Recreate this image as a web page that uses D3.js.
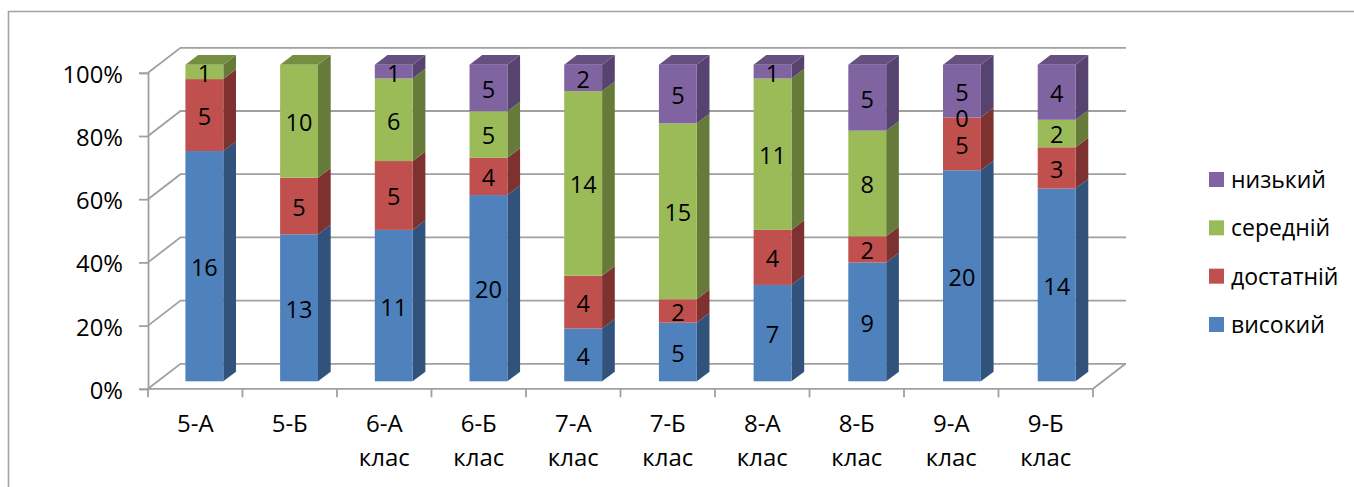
<!DOCTYPE html>
<html><head><meta charset="utf-8">
<script src="https://cdn.jsdelivr.net/npm/d3@7/dist/d3.min.js"></script>
<style>html,body{margin:0;padding:0;background:#fff}svg{display:block}text{font-family:"Open Sans",sans-serif;fill:#000}</style>
</head><body><svg id="c" width="1354" height="487"></svg>
<script>
const categories = ["5-А","5-Б","6-А клас","6-Б клас","7-А клас","7-Б клас","8-А клас","8-Б клас","9-А клас","9-Б клас"];
const seriesNames = ["високий","достатній","середній","низький"];
const vysokyi   = [16,13,11,20,4,5,7,9,20,14];
const dostatnii = [5,5,5,4,4,2,4,2,5,3];
const serednii  = [1,10,6,5,14,15,11,8,0,2];
const nyzkyi    = [0,0,1,5,2,5,1,5,5,4];
const yTicks = [0,0.2,0.4,0.6,0.8,1];
const frontColors = ["#4F81BD","#C0504D","#9BBB59","#8064A2"];
const sideColors  = ["#31527B","#7D3230","#667B3A","#564370"];
const topColors   = ["#3D6596","#964040","#748E42","#65507F"];

const svg = d3.select("#c");
const grid = "#a0a0a0";
const dx = 32.5, dy = 25;        // wall depth
const bdx = 12.7, bdy = 9.6;     // bar depth

const rows = categories.map((c,i)=>({cat:c,[seriesNames[0]]:vysokyi[i],[seriesNames[1]]:dostatnii[i],[seriesNames[2]]:serednii[i],[seriesNames[3]]:nyzkyi[i]}));
const stacked = d3.stack().keys(seriesNames).offset(d3.stackOffsetExpand)(rows);

const xAxisScale = d3.scaleBand().domain(categories).range([148,1093]);
const y = d3.scaleLinear().domain([0,1]).range([388.8,72.8]);
const barX = d3.scaleBand().domain(categories).range([157,1104]).paddingInner(0.6).paddingOuter(0.3);
const barY = d3.scaleLinear().domain([0,1]).range([381.3,64.7]);

// outer frame
svg.append("path").attr("d","M8.5,487V11.5H1354").attr("fill","none").attr("stroke","#a3a3a3").attr("stroke-width",1.6);

// walls and floor grid
const g = svg.append("g").attr("fill","none").attr("stroke",grid).attr("stroke-width",1.8);
yTicks.forEach(t=>{
  g.append("path").attr("d",d3.line()([[148,y(t)],[148+dx,y(t)-dy],[1126,y(t)-dy]]));
});
g.append("path").attr("d",d3.line()([[148,y(0)],[1093,y(0)],[1093+dx,y(0)-dy]]));

// value axis
const yAxis = svg.append("g").attr("transform","translate(148,0)")
  .call(d3.axisLeft(y).tickValues(yTicks).tickFormat(d3.format(".0%")).tickSize(9).tickPadding(16));
yAxis.selectAll("path,line").attr("stroke",grid).attr("stroke-width",1.8);
yAxis.selectAll("text").attr("font-size",23.8).attr("dy","0.4em").attr("font-family",null);

// category axis
const xAxis = svg.append("g").attr("transform","translate(0,388.8)")
  .call(d3.axisBottom(xAxisScale).tickSize(0).tickFormat(""));
xAxis.select(".domain").remove();
xAxis.selectAll("line").remove();
const tickXs = categories.map(c=>xAxisScale(c)).concat([xAxisScale.range()[1]]);
xAxis.selectAll("line.t").data(tickXs).join("line").attr("class","t")
  .attr("x1",d=>d).attr("x2",d=>d).attr("y1",0).attr("y2",8.5).attr("stroke",grid).attr("stroke-width",1.8);
const catLabels = svg.append("g").selectAll("text").data(categories).join("text")
  .attr("text-anchor","middle").attr("font-size",24);
catLabels.each(function(c){
  const cx = xAxisScale(c)+xAxisScale.bandwidth()/2;
  d3.select(this).selectAll("tspan").data(c.split(" ")).join("tspan")
    .attr("x",cx).attr("y",(d,i)=>432+i*33.5).text(d=>d);
});

// bars
const barsG = svg.append("g");
categories.forEach((c,i)=>{
  const x0 = barX(c), w = barX.bandwidth();
  const bar = barsG.append("g");
  const topIdx = d3.max(stacked.filter(s=>s[i][1]-s[i][0]>0).map(s=>s.index));
  stacked.forEach(s=>{
    const d = s[i];
    const yb = barY(d[0]), yt = barY(d[1]);
    if (yb-yt <= 0) return;
    bar.append("path").attr("fill",sideColors[s.index])
      .attr("d",d3.line()([[x0+w,yb],[x0+w+bdx,yb-bdy],[x0+w+bdx,yt-bdy],[x0+w,yt]])+"Z");
    if (s.index===topIdx)
      bar.append("path").attr("fill",topColors[s.index])
        .attr("d",d3.line()([[x0,yt],[x0+bdx,yt-bdy],[x0+w+bdx,yt-bdy],[x0+w,yt]])+"Z");
    bar.append("rect").attr("x",x0).attr("y",yt).attr("width",w).attr("height",yb-yt)
      .attr("fill",frontColors[s.index]);
  });
});

// data labels
const labelsG = svg.append("g").attr("text-anchor","middle").attr("font-size",23.5);
stacked.forEach(s=>{
  s.forEach((d,i)=>{
    const v = d.data[s.key];
    if (s.key===seriesNames[3] && v===0) return;
    const c = categories[i];
    labelsG.append("text").attr("x",barX(c)+barX.bandwidth()/2)
      .attr("y",(barY(d[0])+barY(d[1]))/2+1.5).attr("dy","0.36em").text(v);
  });
});

// legend
const legendY = d3.scalePoint().domain(seriesNames).range([324.5,179.5]);
const lg = svg.append("g").selectAll("g").data(seriesNames).join("g")
  .attr("transform",d=>`translate(1209,${legendY(d)})`);
lg.append("rect").attr("x",0).attr("y",-7.5).attr("width",15).attr("height",15).attr("fill",(d,i)=>frontColors[i]);
lg.append("text").attr("x",22).attr("y",8.5).attr("font-size",23).text(d=>d);
</script></body></html>
